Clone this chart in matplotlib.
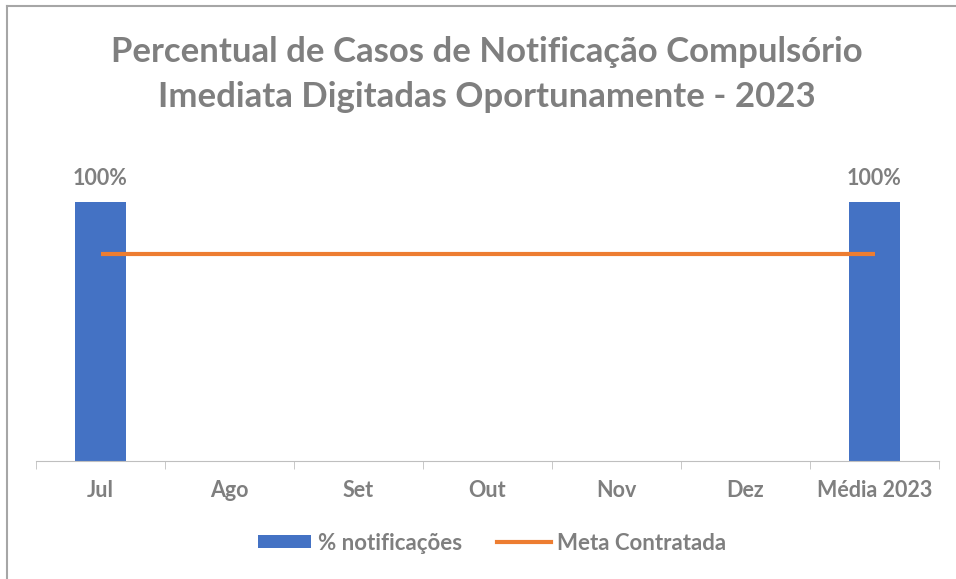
import matplotlib
matplotlib.use('Agg')
import matplotlib.pyplot as plt
from matplotlib.lines import Line2D
from matplotlib.patches import Patch

months = ['Jul', 'Ago', 'Set', 'Out', 'Nov', 'Dez', 'Média 2023']
pct_notif = [1.0, None, None, None, None, None, 1.0]
meta = [0.8, 0.8, 0.8, 0.8, 0.8, 0.8, 0.8]

plt.rcParams['font.family'] = ['Lato', 'DejaVu Sans']
gray = '#7f7f7f'
blue = '#4472c4'
orange = '#ed7d31'

fig = plt.figure(figsize=(9.56, 5.79), dpi=100)
ax = fig.add_axes([36/956, 1 - 461/579, 903/956, 311/579])

x = list(range(len(months)))
for i, v in enumerate(pct_notif):
    if v is None:
        continue
    ax.bar(i, v, width=0.4, color=blue, zorder=2)
    ax.text(i, v + 0.09, f'{v:.0%}', ha='center', va='center',
            fontsize=15.5, fontweight='bold', color=gray)
ax.plot(x, meta, color=orange, linewidth=3, zorder=3, solid_capstyle='butt')

ax.set_xlim(-0.5, len(months) - 0.5)
ax.set_ylim(0, 1.2)
ax.set_yticks([])
for s in ['top', 'right', 'left']:
    ax.spines[s].set_visible(False)
ax.spines['bottom'].set_color('#bfbfbf')
ax.set_xticks(x)
ax.set_xticklabels(months, fontsize=15.5, fontweight='bold', color=gray)
ax.tick_params(axis='x', length=0, pad=13.5)
ax.set_xticks([i - 0.5 for i in range(len(months) + 1)], minor=True)
ax.tick_params(axis='x', which='minor', length=6, color='#bfbfbf')

title_x = 487/956
fig.text(title_x, 1 - 52/579, 'Percentual de Casos de Notificação Compulsório',
         ha='center', va='center', fontsize=25, fontweight='bold', color=gray)
fig.text(title_x, 1 - 97/579, 'Imediata Digitadas Oportunamente - 2023',
         ha='center', va='center', fontsize=25, fontweight='bold', color=gray)

handles = [Patch(facecolor=blue, edgecolor='none'),
           Line2D([0], [0], color=orange, linewidth=3)]
fig.legend(handles, ['% notificações', 'Meta Contratada'], loc='center',
           bbox_to_anchor=(492/956, 1 - 543/579), ncol=2, frameon=False,
           prop={'size': 16, 'weight': 'bold'}, labelcolor=gray,
           handlelength=2.4, handleheight=0.5, handletextpad=0.3, columnspacing=1.6)

# chart border (top and left edges visible)
fig.add_artist(Line2D([7/956, 1], [1 - 6/579, 1 - 6/579], color='#a6a6a6', linewidth=1.5))
fig.add_artist(Line2D([7/956, 7/956], [0, 1 - 6/579], color='#a6a6a6', linewidth=1.5))

fig.savefig('out.png', dpi=100)
